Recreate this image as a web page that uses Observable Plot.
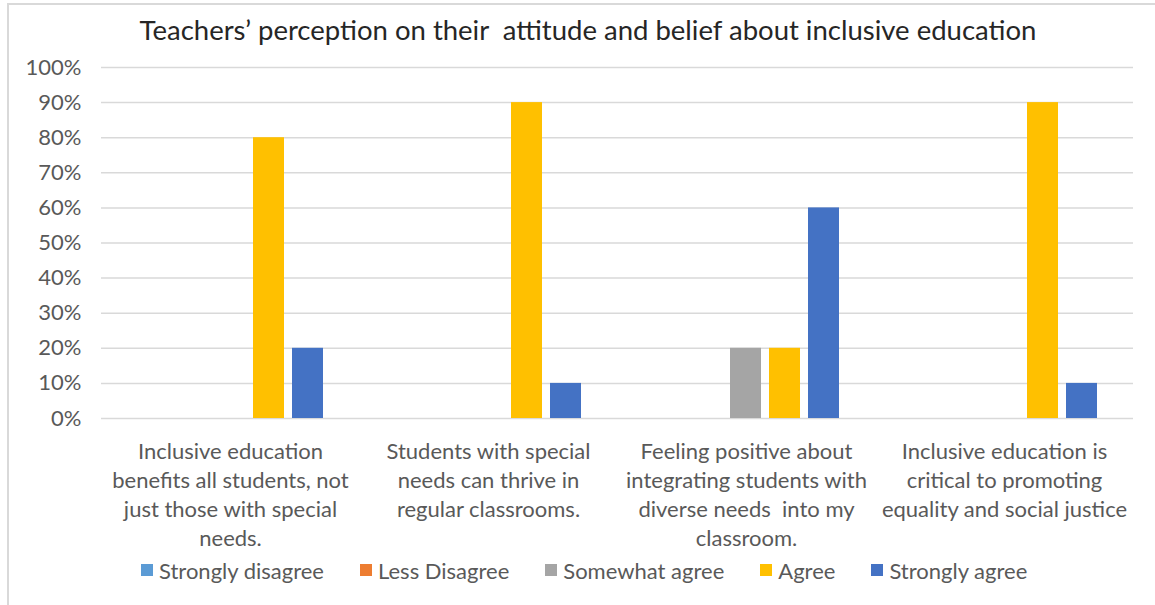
<!DOCTYPE html>
<html>
<head>
<meta charset="utf-8">
<script src="https://cdn.jsdelivr.net/npm/d3@7"></script>
<script src="https://cdn.jsdelivr.net/npm/@observablehq/plot@0.6"></script>
<style>
  html, body { margin: 0; padding: 0; background: #fff; }
  #frame { position: absolute; left: 0; top: 0; width: 1155px; height: 605px; overflow: hidden; font-family: Lato, "Open Sans", sans-serif; }
  #border { position: absolute; left: 7px; top: 3px; width: 1200px; height: 700px; border-left: 2px solid #D9D9D9; border-top: 2px solid #D9D9D9; box-sizing: border-box; }
  #title { position: absolute; left: 0; top: 14px; width: 1176px; text-align: center; font-size: 27.5px; line-height: 32px; color: #262626; white-space: pre; }
  #chart { position: absolute; left: 0; top: 50px; }
  #legend { position: absolute; left: 141px; top: 556px; }
  .lg-swatches { font-family: Lato, "Open Sans", sans-serif !important; font-size: 22px !important; color: #595959 !important; min-height: 28px !important; }
  .lg-swatch { margin-right: 36px !important; }
  .lg-swatch > svg { margin-right: 6px !important; }
</style>
</head>
<body>
<div id="frame">
  <div id="border"></div>
  <div id="title">Teachers’ perception on their  attitude and belief about inclusive education</div>
  <div id="chart"></div>
  <div id="legend"></div>
</div>
<script>
const categories = [
  "Inclusive education\nbenefits all students, not\njust those with special\nneeds.",
  "Students with special\nneeds can thrive in\nregular classrooms.",
  "Feeling positive about\nintegrating students with\ndiverse needs  into my\nclassroom.",
  "Inclusive education is\ncritical to promoting\nequality and social justice"
];
const seriesNames = ["Strongly disagree", "Less Disagree", "Somewhat agree", "Agree", "Strongly agree"];
const seriesColors = ["#5B9BD5", "#ED7D31", "#A5A5A5", "#FFC000", "#4472C4"];
const stronglyDisagree = [0, 0, 0, 0];
const lessDisagree = [0, 0, 0, 0];
const somewhatAgree = [0, 0, 20, 0];
const agree = [80, 90, 20, 90];
const stronglyAgree = [20, 10, 60, 10];
const yTicks = [0, 10, 20, 30, 40, 50, 60, 70, 80, 90, 100];

const seriesValues = [stronglyDisagree, lessDisagree, somewhatAgree, agree, stronglyAgree];
const data = [];
categories.forEach((c, i) => {
  seriesNames.forEach((s, j) => data.push({category: c, series: s, value: seriesValues[j][i]}));
});

const font = "Lato, 'Open Sans', sans-serif";
const chart = Plot.plot({
  width: 1155,
  height: 500,
  marginTop: 17,
  marginBottom: 132,
  marginLeft: 100,
  marginRight: 22,
  style: {fontFamily: font, fontSize: "22px", color: "#595959", background: "transparent", overflow: "visible"},
  fx: {domain: categories, padding: 0, label: null},
  x: {domain: seriesNames, paddingInner: 0.2, paddingOuter: 0.87, axis: null},
  y: {domain: [0, 100], label: null},
  color: {domain: seriesNames, range: seriesColors},
  marks: [
    Plot.gridY(yTicks, {stroke: "#D9D9D9", strokeOpacity: 1, strokeWidth: 1.5}),
    Plot.barY(data, {fx: "category", x: "series", y: "value", fill: "series"}),
    Plot.axisY(yTicks, {tickSize: 0, tickPadding: 20, tickFormat: d => d + "%", fill: "#595959", fontSize: 22}),
    Plot.axisFx({anchor: "bottom", tickSize: 0, tickPadding: 20, lineAnchor: "top", lineHeight: 1.32, fill: "#595959", fontSize: 22, label: null})
  ]
});
document.getElementById("chart").appendChild(chart);

const legend = Plot.legend({
  color: {domain: seriesNames, range: seriesColors},
  legend: "swatches",
  swatchSize: 12,
  className: "lg"
});
document.getElementById("legend").appendChild(legend);
</script>
</body>
</html>
